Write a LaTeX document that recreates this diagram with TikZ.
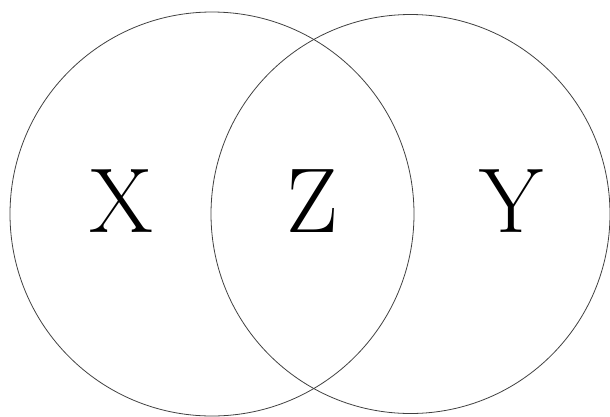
\documentclass[tikz,border=0pt]{standalone}
\begin{document}
\begin{tikzpicture}[x=1pt,y=-1pt,
  ring/.style={draw=black!75,line width=0.8pt},
  lbl/.style={font=\fontsize{92}{92}\selectfont,inner sep=0pt,anchor=center}]
\useasboundingbox (0,0) rectangle (610,416);
\draw[ring] (212,214) circle[radius=202] coordinate (L);
\draw[ring] (410.5,214) circle[radius=199.5] coordinate (R);
\node[lbl] (x) at (121,201) {X};
\node[lbl] (z) at (312,201) {Z};
\node[lbl] (y) at (511,201) {Y};
\end{tikzpicture}
\end{document}
